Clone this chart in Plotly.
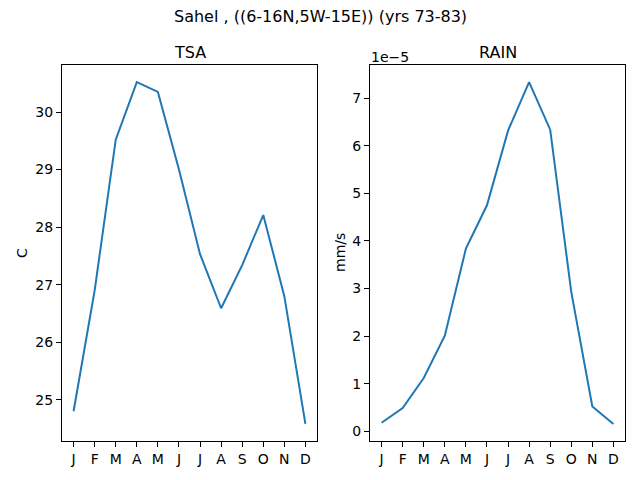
import plotly.graph_objects as go

# data
months = ["J", "F", "M", "A", "M", "J", "J", "A", "S", "O", "N", "D"]
tsa = [24.80, 26.90, 29.52, 30.52, 30.35, 29.00, 27.53, 26.59, 27.34, 28.21, 26.80, 24.58]
rain = [0.18e-5, 0.49e-5, 1.12e-5, 2.01e-5, 3.84e-5, 4.75e-5, 6.32e-5, 7.34e-5,
        6.34e-5, 2.93e-5, 0.52e-5, 0.155e-5]
rain_ticks = [0, 1, 2, 3, 4, 5, 6, 7]

W, H = 640, 480
font = "DejaVu Sans"
blue = "#1f77b4"
idx = list(range(len(months)))

fig = go.Figure()
fig.add_trace(go.Scatter(x=idx, y=tsa, mode="lines", line=dict(color=blue, width=2),
                         xaxis="x", yaxis="y", showlegend=False))
fig.add_trace(go.Scatter(x=idx, y=[v * 1e5 for v in rain], mode="lines",
                         line=dict(color=blue, width=2),
                         xaxis="x2", yaxis="y2", showlegend=False))

def pad(vals):
    lo, hi = min(vals), max(vals)
    m = (hi - lo) * 0.05
    return [lo - m, hi + m]

ax = dict(showline=True, linecolor="black", linewidth=1, mirror=True,
          ticks="outside", ticklen=5, tickcolor="black", showgrid=False,
          zeroline=False, tickfont=dict(family=font, size=14, color="black"))

def label(text, x, y, size=14, angle=0, xanchor="center"):
    return dict(text=text, x=x/W, y=1-y/H, xref="paper", yref="paper",
                xanchor=xanchor, yanchor="middle", showarrow=False,
                textangle=angle, font=dict(family=font, size=size))

fig.update_layout(
    width=W, height=H,
    margin=dict(l=0, r=0, t=0, b=0),
    paper_bgcolor="white", plot_bgcolor="white",
    font=dict(family=font, color="black"),
    xaxis=dict(ax, domain=[62/W, 317/W], range=[-0.55, 11.55],
               tickvals=idx, ticktext=months, anchor="y"),
    yaxis=dict(ax, domain=[1-441/H, 1-65/H], range=pad(tsa),
               tickvals=[25, 26, 27, 28, 29, 30], anchor="x"),
    xaxis2=dict(ax, domain=[370/W, 625/W], range=[-0.55, 11.55],
                tickvals=idx, ticktext=months, anchor="y2"),
    yaxis2=dict(ax, domain=[1-441/H, 1-65/H],
                range=pad([v * 1e5 for v in rain]),
                tickvals=rain_ticks, anchor="x2"),
    annotations=[
        label("Sahel , ((6-16N,5W-15E)) (yrs 73-83)", 320, 17, size=16),
        label("TSA", 189.5, 52, size=16),
        label("RAIN", 497.5, 52, size=16),
        label("C", 22, 253, angle=-90),
        label("mm/s", 340, 253, angle=-90),
        label("1e\u22125", 369, 57, xanchor="left"),
    ],
)

fig.write_html("out.html", config={"displayModeBar": False},
               post_script="document.body.style.margin='0';document.body.style.overflow='hidden';")
